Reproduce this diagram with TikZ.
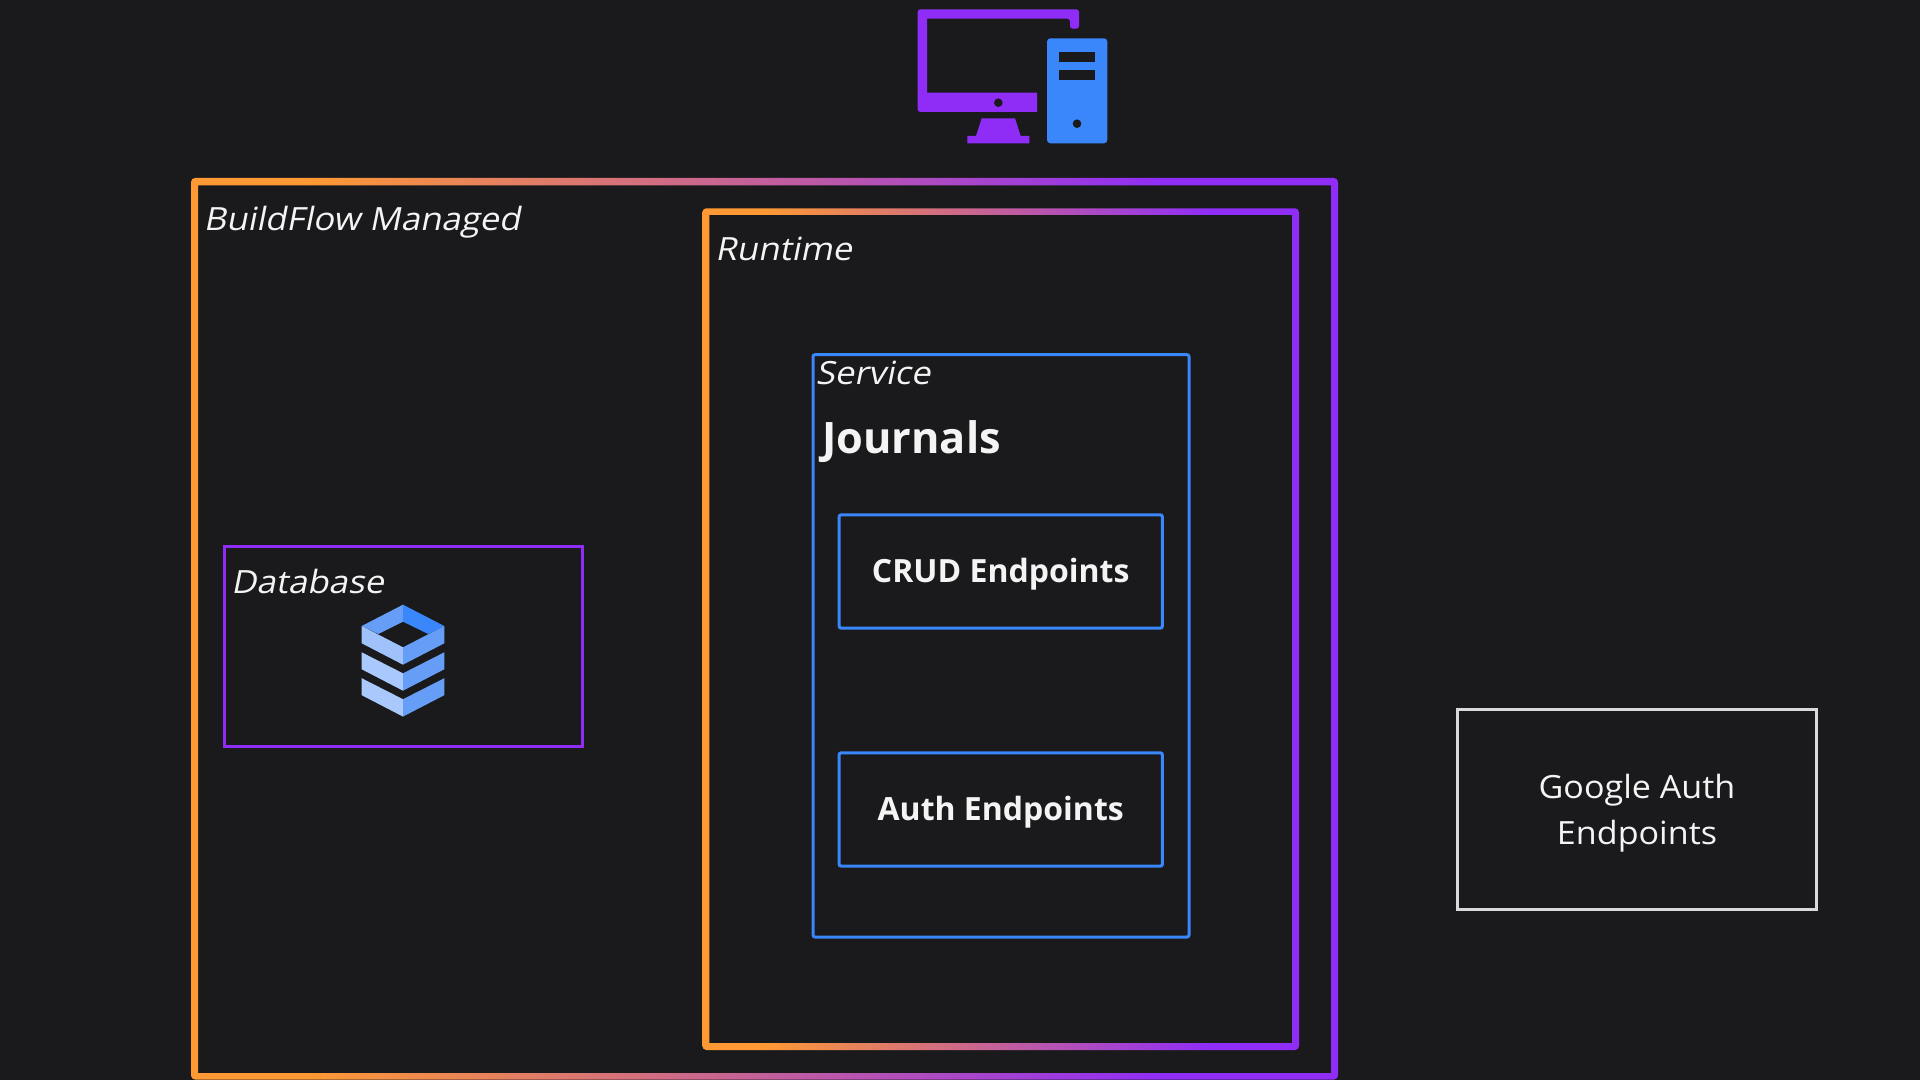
\documentclass[tikz,border=0pt]{standalone}
\usepackage{fontspec}
\setmainfont{Open Sans}
\newfontfamily\plainwide[FakeStretch=1.065]{Open Sans}
\newfontfamily\slantwide[FakeSlant=0.2,FakeStretch=1.085]{Open Sans}
\definecolor{bgdark}{HTML}{1A1A1C}
\definecolor{framepurple}{HTML}{8F2DF7}
\definecolor{frameorange}{HTML}{FF9933}
\definecolor{iconblue}{HTML}{3A87FC}
\definecolor{stacklight}{HTML}{A9C8FB}
\definecolor{stackmid}{HTML}{669DF6}
\definecolor{textwhite}{HTML}{F4F4F4}
\definecolor{greybox}{HTML}{DADADA}
\pgfdeclarehorizontalshading{framegrad}{100bp}{color(0bp)=(frameorange); color(30bp)=(frameorange); color(67.5bp)=(framepurple); color(100bp)=(framepurple)}
\tikzset{every picture/.style={line width=0.75pt}}
\tikzset{
  framelabel/.style={anchor=base west,inner sep=0pt,text=textwhite,font=\fontsize{24}{29}\slantwide},
  bluebox/.style={draw=iconblue,line width=2.25pt,rounded corners=1.5pt},
  endpoint/.style={bluebox,anchor=center,inner sep=0pt,minimum width=241.5bp,minimum height=85pt,text height=17.1pt,text depth=0pt,text=textwhite,font=\fontsize{24}{29}\selectfont\bfseries},
}
\begin{document}
\begin{tikzpicture}[x=0.75pt,y=0.75pt,yscale=-1,xscale=1]
\useasboundingbox (0,0) rectangle (1920,1080);
\fill [bgdark] (0,0) rectangle (1920,1080);

%Shape: Monitor
\fill [framepurple,rounded corners=2pt] (917.7,9.3) -- (1079,9.3) -- (1079,28.7) -- (1070,28.7) -- (1070,18.7) [sharp corners] -- (927,18.7) -- (927,92.7) -- (1037,92.7) -- (1037,112) [rounded corners=2pt] -- (917.7,112) -- cycle ;
\fill [framepurple] (981.7,118.3) -- (1015,118.3) -- (1020.7,136) -- (1029.3,136) -- (1029.3,143.3) -- (967.3,143.3) -- (967.3,136) -- (976,136) -- cycle ;
\fill [bgdark] (998.3,102.7) circle [radius=4.3] ;
%Shape: Tower
\fill [iconblue,rounded corners=2.5pt] (1047,38.3) rectangle (1107.3,143.3) ;
\fill [bgdark] (1059.3,52.3) rectangle (1095,62.3) ;
\fill [bgdark] (1059.3,70.3) rectangle (1095,80.3) ;
\fill [bgdark] (1077,123.7) circle [radius=4.3] ;

%Shape: BuildFlow frame
\shade [shading=framegrad,even odd rule] [rounded corners=3pt] (191,178) rectangle (1338,1079.5) [sharp corners] (198,185.5) rectangle (1331,1073) ;
%Shape: Runtime frame
\shade [shading=framegrad,even odd rule] [rounded corners=3pt] (702.3,208.3) rectangle (1299,1050) [sharp corners] (709.3,215) rectangle (1292,1043) ;
%Shape: Service frame
\draw [bluebox] (813,354.7) rectangle (1189,937) ;
%Shape: Database frame
\draw [draw=framepurple,line width=2.25pt] (224.5,546.5) rectangle (582,746) ;

%Shape: Stack
\fill [stackmid] (403,604.7) -- (361.7,626) -- (378.3,634) -- (403,621.7) -- cycle ;
\fill [iconblue] (403,604.7) -- (444.3,626) -- (428.3,634) -- (403,621.7) -- cycle ;
\fill [stacklight!85!stackmid] (361.7,626) -- (403,647.3) -- (403,664.7) -- (361.7,643.3) -- cycle ;
\fill [stackmid] (444.3,626) -- (403,647.3) -- (403,664.7) -- (444.3,643.3) -- cycle ;
\foreach \y in {0,25.9} {
  \fill [stacklight] (361.7,652.3+\y) -- (403,673.3+\y) -- (403,690.7+\y) -- (361.7,669.3+\y) -- cycle ;
  \fill [stackmid] (444.3,652.3+\y) -- (403,673.3+\y) -- (403,690.7+\y) -- (444.3,669.3+\y) -- cycle ;
}

%Shape: Google box
\draw [draw=greybox,line width=2.25pt] (1457.5,709.5) rectangle (1816,909) ;

% Text Node
\node [framelabel] (buildflowlabel) at (203,230.5) {BuildFlow Managed};
% Text Node
\node [framelabel] (runtimelabel) at (714.5,261) {Runtime};
% Text Node
\node [framelabel] (servicelabel) at (815,385) {Service};
% Text Node
\node [framelabel] (databaselabel) at (230.5,593.2) {Database};
% Text Node
\node [anchor=base west,inner sep=0pt,text=textwhite,font=\fontsize{32.5}{38}\selectfont\bfseries] (journalslabel) at (821.7,453) {Journals};
% Text Node
\node [endpoint] (crudbox) at (1000.75,571.5) {CRUD Endpoints};
% Text Node
\node [endpoint] (authbox) at (1000.75,809.5) {Auth Endpoints};
% Text Node
\node [anchor=center,inner sep=0pt,align=center,text=textwhite,font=\fontsize{24}{34.5}\plainwide] (googlelabel) at (1637,813) {Google Auth\\Endpoints};
\end{tikzpicture}
\end{document}
